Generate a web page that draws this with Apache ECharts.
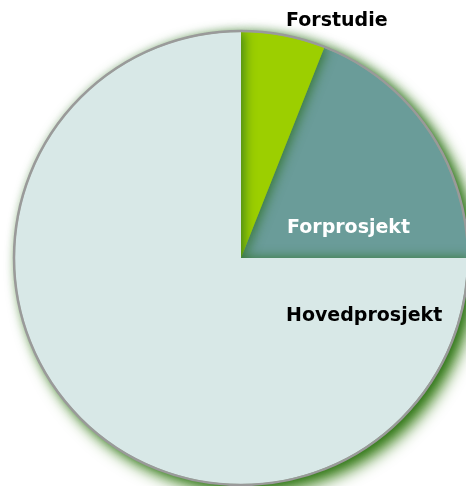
<!DOCTYPE html>
<html>
<head>
<meta charset="utf-8">
<script src="https://cdn.jsdelivr.net/npm/echarts@6/dist/echarts.min.js"></script>
<style>
  html, body { margin: 0; padding: 0; background: #fff; }
  #main { width: 466px; height: 486px; }
</style>
</head>
<body>
<div id="main"></div>
<script>
  // drawn counterclockwise from 3 o'clock
  var categories = ['Forprosjekt', 'Forstudie', 'Hovedprosjekt'];
  var values = [19, 6, 75];
  var colors = ['#6a9c99', '#9ccf00', '#d8e8e7'];
  var labelColors = ['#ffffff', '#000000', '#000000'];
  // label anchor points (left, middle)
  var labelPos = [[287, 228], [286, 21], [286, 316]];

  var total = values.reduce(function (a, b) { return a + b; }, 0);
  var myChart = echarts.init(document.getElementById('main'));

  var pieData = categories.map(function (name, i) {
    return {
      name: name,
      value: values[i],
      itemStyle: { color: colors[i] },
      label: { color: labelColors[i] }
    };
  });

  var option = {
    animation: false,
    series: [
      {
        // drop shadow of whole pie
        type: 'pie',
        center: [241, 258],
        radius: [0, 227],
        silent: true,
        z: 1,
        label: { show: false },
        labelLine: { show: false },
        itemStyle: {
          color: '#d8e8e7',
          shadowColor: 'rgba(55,125,20,1)',
          shadowBlur: 16,
          shadowOffsetX: 8,
          shadowOffsetY: 8
        },
        data: [{ name: 'total', value: total }]
      },
      {
        type: 'pie',
        center: [241, 258],
        radius: [0, 226],
        startAngle: 0,
        clockwise: false,
        z: 2,
        itemStyle: {
          borderWidth: 0,
          shadowColor: 'rgba(40,110,30,0.8)',
          shadowBlur: 12,
          shadowOffsetX: 3,
          shadowOffsetY: 0
        },
        label: {
          show: true,
          position: 'inside',
          formatter: '{b}',
          fontFamily: 'DejaVu Sans',
          fontWeight: 'bold',
          fontSize: 19
        },
        labelLine: { show: false },
        labelLayout: function (params) {
          var p = labelPos[params.dataIndex];
          return { x: p[0], y: p[1], align: 'left', verticalAlign: 'middle' };
        },
        data: pieData
      },
      {
        // grey outline on top
        type: 'pie',
        center: [241, 258],
        radius: [0, 227],
        silent: true,
        z: 3,
        label: { show: false },
        labelLine: { show: false },
        itemStyle: {
          color: 'rgba(0,0,0,0)',
          borderColor: '#9a9a9a',
          borderWidth: 2.5
        },
        data: [{ name: 'outline', value: total }]
      }
    ]
  };
  myChart.setOption(option);
</script>
</body>
</html>
